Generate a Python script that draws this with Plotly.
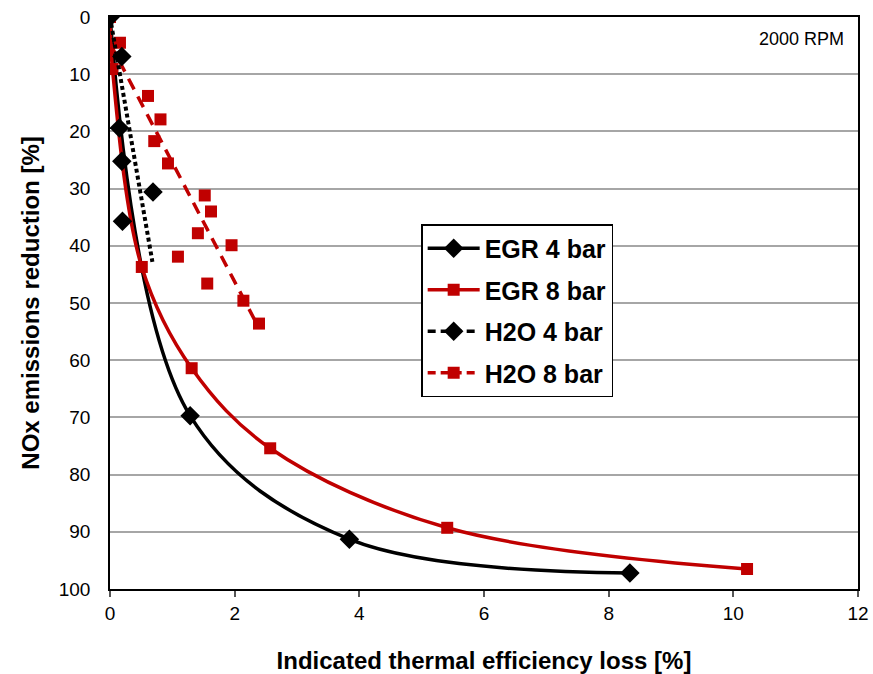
import plotly.graph_objects as go

# ---------------- data ----------------
egr4_x = [0.0, 1.285, 3.84, 8.34]
egr4_y = [0.0, 69.7, 91.3, 97.2]

egr8_x = [0.0, 0.04, 0.51, 1.31, 2.57, 5.41, 10.22]
egr8_y = [0.0, 9.1, 43.7, 61.4, 75.4, 89.3, 96.5]

h2o4_x = [0.0, 0.19, 0.15, 0.19, 0.69, 0.20]
h2o4_y = [0.0, 6.9, 19.4, 25.2, 30.6, 35.7]
h2o4_trend_x = [0.0, 0.68]
h2o4_trend_y = [0.0, 42.8]

h2o8_x = [0.0, 0.16, 0.61, 0.81, 0.71, 0.93, 1.52, 1.62, 1.41, 1.95, 1.09, 1.56, 2.14, 2.39]
h2o8_y = [0.0, 4.5, 13.8, 17.9, 21.7, 25.6, 31.2, 34.0, 37.8, 39.9, 41.9, 46.6, 49.6, 53.6]
h2o8_trend_x = [0.0, 2.39]
h2o8_trend_y = [4.6, 54.4]

x_ticks = [0, 2, 4, 6, 8, 10, 12]
y_ticks = [0, 10, 20, 30, 40, 50, 60, 70, 80, 90, 100]

RED = "#C00000"
BLACK = "#000000"
FONT = "Liberation Sans, Arial, sans-serif"

fig = go.Figure()

# EGR 4 bar
fig.add_trace(go.Scatter(
    x=egr4_x, y=egr4_y, name="EGR 4 bar", mode="lines+markers",
    line=dict(color=BLACK, width=3.5, shape="spline", smoothing=1.0),
    marker=dict(symbol="diamond", size=15, color=BLACK),
    legendgroup="g1", legendrank=1))

# EGR 8 bar
fig.add_trace(go.Scatter(
    x=egr8_x, y=egr8_y, name="EGR 8 bar", mode="lines+markers",
    line=dict(color=RED, width=3.5, shape="spline", smoothing=1.0),
    marker=dict(symbol="square", size=12, color=RED),
    legendgroup="g2", legendrank=2))

# H2O 8 bar trend + markers
fig.add_trace(go.Scatter(
    x=h2o8_trend_x, y=h2o8_trend_y, mode="lines", showlegend=False,
    line=dict(color=RED, width=3.5, dash="12px,8px"), legendgroup="g4", hoverinfo="skip"))
fig.add_trace(go.Scatter(
    x=h2o8_x, y=h2o8_y, mode="markers", showlegend=False, name="H2O 8 bar",
    marker=dict(symbol="square", size=12, color=RED), legendgroup="g4"))

# H2O 4 bar trend + markers
fig.add_trace(go.Scatter(
    x=h2o4_trend_x, y=h2o4_trend_y, mode="lines", showlegend=False,
    line=dict(color=BLACK, width=4, dash="4px,3px"), legendgroup="g3", hoverinfo="skip"))
fig.add_trace(go.Scatter(
    x=h2o4_x, y=h2o4_y, mode="markers", showlegend=False, name="H2O 4 bar",
    marker=dict(symbol="diamond", size=15, color=BLACK), legendgroup="g3"))

# legend entries for the H2O series (dashed line with marker)
fig.add_trace(go.Scatter(
    x=[None], y=[None], name="H2O 4 bar", mode="lines+markers",
    line=dict(color=BLACK, width=3.5, dash="8px,5px"),
    marker=dict(symbol="diamond", size=15, color=BLACK),
    legendgroup="g3", legendrank=3))
fig.add_trace(go.Scatter(
    x=[None], y=[None], name="H2O 8 bar", mode="lines+markers",
    line=dict(color=RED, width=3.5, dash="8px,5px"),
    marker=dict(symbol="square", size=12, color=RED),
    legendgroup="g4", legendrank=4))

fig.update_layout(
    width=873, height=674,
    margin=dict(l=110, r=15, t=17, b=85, autoexpand=False),
    paper_bgcolor="white", plot_bgcolor="white",
    font=dict(family=FONT, color="black"),
    showlegend=True,
    legend=dict(
        x=0.416, y=0.638, xanchor="left", yanchor="top",
        bgcolor="white", bordercolor="#000000", borderwidth=1.5,
        font=dict(family=FONT, size=25, color="black", weight="bold"),
        traceorder="grouped", tracegroupgap=6, itemwidth=52,
    ),
    annotations=[dict(
        text="2000 RPM", xref="paper", yref="paper", x=0.984, y=0.962,
        xanchor="right", yanchor="middle", showarrow=False,
        font=dict(family=FONT, size=18, color="black"))],
)

fig.update_xaxes(
    range=[0, 12], tickvals=x_ticks, ticktext=[str(v) for v in x_ticks],
    showgrid=False, zeroline=False, automargin=False,
    showline=True, linecolor="black", linewidth=1.5, mirror=True,
    ticks="outside", ticklen=6, tickcolor="#555555", tickwidth=1.5,
    tickfont=dict(family=FONT, size=19, color="black"),
    title=dict(text="<b>Indicated thermal efficiency loss [%]</b>",
               font=dict(family=FONT, size=24, color="black"), standoff=30),
)
fig.update_yaxes(
    range=[100, 0], tickvals=y_ticks, ticktext=[str(v) for v in y_ticks],
    showgrid=True, gridcolor="#A6A6A6", gridwidth=1.5, zeroline=False, automargin=False,
    showline=True, linecolor="black", linewidth=1.5, mirror=True,
    ticks="", ticklabelstandoff=14,
    tickfont=dict(family=FONT, size=19, color="black"),
    title=dict(text="<b>NOx emissions reduction [%]</b>",
               font=dict(family=FONT, size=24, color="black"), standoff=12),
)

fig.write_html("out.html")
